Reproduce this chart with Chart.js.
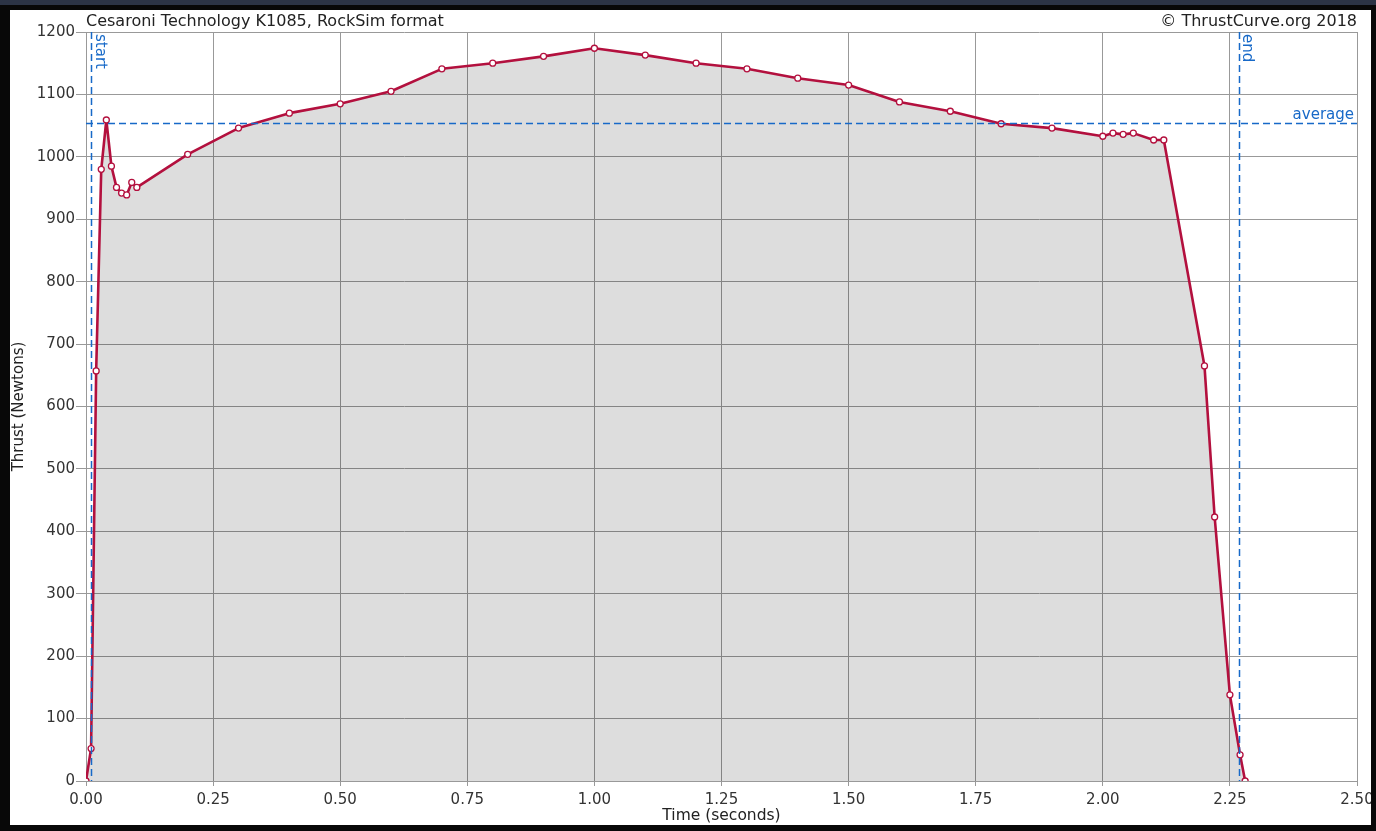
<!DOCTYPE html>
<html>
<head>
<meta charset="utf-8">
<title>K1085 thrust curve</title>
<script src="https://cdn.jsdelivr.net/npm/chart.js@4/dist/chart.umd.min.js"></script>
<style>
  body { margin: 0; background: #2c3446; }
  #frame { position: absolute; left: 0; top: 5px; width: 1376px; height: 826px; background: #080808; }
  #wrap { position: absolute; left: 10px; top: 10px; width: 1361px; height: 815px; background: #fff; }
</style>
</head>
<body>
<div id="frame"></div>
<div id="wrap"><canvas id="thrustChart" width="1361" height="815"></canvas></div>
<script>
// motor data (seconds / newtons)
var times = [0, 0.01, 0.02, 0.03, 0.04, 0.05, 0.06, 0.07, 0.08, 0.09, 0.1,
             0.2, 0.3, 0.4, 0.5, 0.6, 0.7, 0.8, 0.9, 1.0, 1.1, 1.2, 1.3, 1.4, 1.5,
             1.6, 1.7, 1.8, 1.9, 2.0, 2.02, 2.04, 2.06, 2.1, 2.12,
             2.2, 2.22, 2.25, 2.27, 2.28];
var thrust = [0, 52, 657, 980, 1059, 985, 951, 942, 939, 959, 951,
              1004, 1046, 1070, 1085, 1105, 1141, 1150, 1161, 1174, 1163, 1150, 1141, 1126, 1115,
              1088, 1073, 1053, 1046, 1033, 1038, 1036, 1038, 1027, 1027,
              665, 423, 138, 42, 0];
var xTicks = [0, 0.25, 0.5, 0.75, 1.0, 1.25, 1.5, 1.75, 2.0, 2.25, 2.5];
var yTicks = [0, 100, 200, 300, 400, 500, 600, 700, 800, 900, 1000, 1100, 1200];
var startTime = 0.01;
var endTime = 2.267;
var avgThrust = 1055;

var titleLeft = 'Cesaroni Technology K1085, RockSim format';
var titleRight = '\u00a9 ThrustCurve.org 2018';

var lineColor = '#b3103e';
var gridColor = '#999999';
var markColor = '#1769c8';

Chart.defaults.font.family = '"DejaVu Sans", sans-serif';

// start / end / average markers and header texts
var markers = {
    id: 'markers',
    afterDatasetsDraw: function(chart){
        var ctx = chart.ctx;
        var a = chart.chartArea;
        var xs = chart.scales.x, ys = chart.scales.y;
        ctx.save();
        ctx.strokeStyle = markColor;
        ctx.lineWidth = 1.5;
        ctx.setLineDash([7, 4]);
        [startTime, endTime].forEach(function(t){
            var px = Math.round(xs.getPixelForValue(t)) + 0.5;
            ctx.beginPath();
            ctx.moveTo(px, a.top);
            ctx.lineTo(px, a.bottom);
            ctx.stroke();
        });
        var py = Math.round(ys.getPixelForValue(avgThrust)) + 0.5;
        ctx.beginPath();
        ctx.moveTo(a.left, py);
        ctx.lineTo(a.right, py);
        ctx.stroke();
        ctx.setLineDash([]);

        ctx.fillStyle = markColor;
        ctx.font = '15px "DejaVu Sans", sans-serif';
        ctx.textAlign = 'right';
        ctx.textBaseline = 'bottom';
        ctx.fillText('average', a.right - 3, py - 1);

        // vertical labels, reading top to bottom
        [['start', startTime], ['end', endTime]].forEach(function(m){
            var px = xs.getPixelForValue(m[1]);
            ctx.save();
            ctx.translate(px + 1, a.top + 2);
            ctx.rotate(Math.PI / 2);
            ctx.textAlign = 'left';
            ctx.textBaseline = 'bottom';
            ctx.fillText(m[0], 0, 0);
            ctx.restore();
        });

        ctx.fillStyle = '#222';
        ctx.font = '16px "DejaVu Sans", sans-serif';
        ctx.textBaseline = 'alphabetic';
        ctx.textAlign = 'left';
        ctx.fillText(titleLeft, a.left, a.top - 6);
        ctx.textAlign = 'right';
        ctx.fillText(titleRight, a.right, a.top - 6);
        ctx.restore();
    }
};

function get_thrust_chart(){
    var ctx = document.getElementById('thrustChart');
    var points = times.map(function(t, i){ return {x: t, y: thrust[i]}; });
    var myChart = new Chart(ctx, {
        type: 'line',
        data: {
            datasets: [{
                data: points,
                borderColor: lineColor,
                borderWidth: 2.6,
                borderJoinStyle: 'round',
                backgroundColor: 'rgba(0, 0, 0, 0.135)',
                fill: 'origin',
                tension: 0,
                pointRadius: 3,
                pointBorderWidth: 1.3,
                pointBackgroundColor: '#fff',
                pointBorderColor: lineColor
            }]
        },
        options: {
            responsive: false,
            animation: false,
            layout: { padding: { top: 22, right: 14, left: 0, bottom: 0 } },
            plugins: { legend: { display: false }, tooltip: { enabled: false } },
            scales: {
                x: {
                    type: 'linear', min: 0, max: 2.5,
                    afterBuildTicks: function(s){ s.ticks = xTicks.map(function(v){ return {value: v}; }); },
                    ticks: {
                        callback: function(v){ return v.toFixed(2); },
                        font: { size: 15 }, color: '#333', padding: 5,
                        maxRotation: 0, autoSkip: false
                    },
                    grid: { color: gridColor, tickLength: 5, tickColor: gridColor },
                    border: { color: gridColor },
                    title: { display: true, text: 'Time (seconds)', font: { size: 15.5 }, color: '#222', padding: 0 },
                    afterFit: function(s){ s.height = 44; s.paddingLeft = 0; s.paddingRight = 0; }
                },
                y: {
                    min: 0, max: 1200,
                    afterBuildTicks: function(s){ s.ticks = yTicks.map(function(v){ return {value: v}; }); },
                    ticks: {
                        callback: function(v){ return String(v); },
                        font: { size: 15 }, color: '#333', padding: 1
                    },
                    grid: { color: gridColor, tickLength: 10, tickColor: gridColor },
                    border: { color: gridColor },
                    title: { display: true, text: 'Thrust (Newtons)', font: { size: 15 }, color: '#222', padding: 0 },
                    afterFit: function(s){ s.width = 76; s.paddingTop = 0; s.paddingBottom = 0; }
                }
            }
        },
        plugins: [markers]
    });
}

window.onload = function(){
    get_thrust_chart();
}
</script>
</body>
</html>
